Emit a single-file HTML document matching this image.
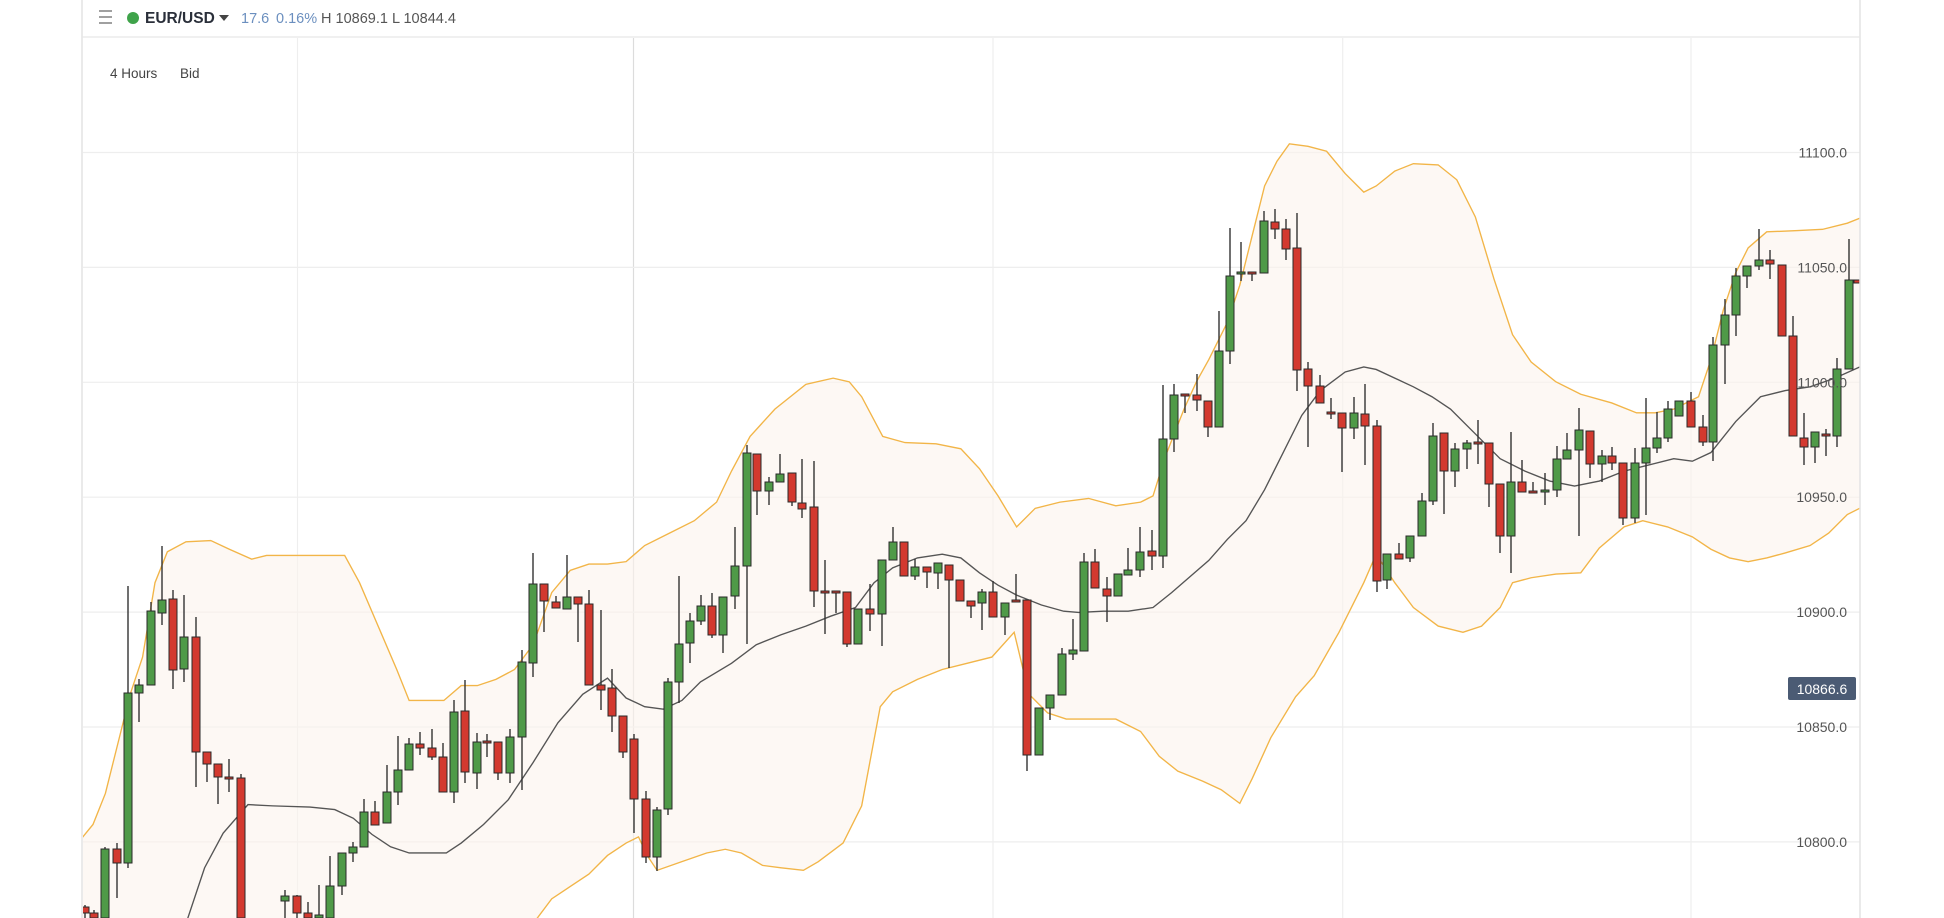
<!DOCTYPE html>
<html><head><meta charset="utf-8"><style>
html,body{margin:0;padding:0;background:#fff;width:1944px;height:918px;overflow:hidden}
svg{display:block}
text{font-family:"Liberation Sans",sans-serif}
</style></head><body>
<svg id="s" width="1944" height="918" viewBox="0 0 1944 918" xmlns="http://www.w3.org/2000/svg">
<defs><clipPath id="cp"><rect x="83" y="38" width="1777" height="880"/></clipPath></defs>
<rect width="1944" height="918" fill="#fff"/>
<g id="grid" stroke="#eeeeee" stroke-width="1.2"></g>
<g clip-path="url(#cp)">
 <g transform="scale(1.2398)">
  <path id="fill" fill="#fcf4ec" opacity="0.6"/>
  <polyline id="up" fill="none" stroke="#f2b548" stroke-width="1.1"/>
  <polyline id="lo" fill="none" stroke="#f2b548" stroke-width="1.1"/>
  <polyline id="mid" fill="none" stroke="#555" stroke-width="1.1"/>
 </g>
 <g id="candles"></g>
</g>
<line x1="82" y1="0" x2="82" y2="918" stroke="#e3e3e3" stroke-width="1.5"/>
<line x1="1860" y1="0" x2="1860" y2="918" stroke="#e3e3e3" stroke-width="1.5"/>
<line x1="82" y1="37" x2="1860" y2="37" stroke="#e6e6e6" stroke-width="1.2"/>
<g font-size="14" fill="#555" text-anchor="end" id="labels"></g>
<rect x="1788" y="677" width="68" height="23" rx="2" fill="#4b5b74"/>
<text x="1822" y="694" font-size="14" fill="#fff" text-anchor="middle">10866.6</text>
<g stroke="#888" stroke-width="1.6"><line x1="99" y1="11" x2="112" y2="11"/><line x1="99" y1="17" x2="112" y2="17"/><line x1="99" y1="23" x2="112" y2="23"/></g>
<circle cx="133" cy="18" r="6" fill="#3fa34a"/>
<text x="145" y="23" font-size="15.5" font-weight="bold" fill="#2a2f3a">EUR/USD</text>
<path d="M219 15 L229 15 L224 21 Z" fill="#444"/>
<text x="241" y="23" font-size="14.5" fill="#6b8fbf">17.6</text>
<text x="276" y="23" font-size="14.5" fill="#6b8fbf">0.16%</text>
<text x="321" y="23" font-size="14.5" fill="#555">H 10869.1 L 10844.4</text>
<text x="110" y="78" font-size="13.5" fill="#444">4 Hours</text>
<text x="180" y="78" font-size="13.5" fill="#444">Bid</text>
</svg>
<script>
var NS="http://www.w3.org/2000/svg";
function el(t,a,p){var e=document.createElementNS(NS,t);for(var k in a)e.setAttribute(k,a[k]);p.appendChild(e);return e;}
var grid=document.getElementById('grid');
[297.5,993,1342.7,1691].forEach(function(x){el('line',{x1:x,y1:38,x2:x,y2:918},grid);});
el('line',{x1:633.5,y1:38,x2:633.5,y2:918,stroke:'#dcdcdc'},grid);
var lab=document.getElementById('labels');
[11100,11050,11000,10950,10900,10850,10800].forEach(function(p){var y=152.5+(11100-p)*2.298;
 el('line',{x1:83,y1:y,x2:1860,y2:y},grid);
 var t=el('text',{x:1847,y:y+5},lab);t.textContent=p.toFixed(1);});
var up=[[66,676],[75,665],[85,640],[95,600],[105,560],[115,530],[125,470],[135,445],[150,437],[170,436],[185,443],[203,451],[215,448],[240,448],[278,448],[290,470],[305,505],[320,540],[330,565],[345,565],[358,565],[372,553],[385,553],[400,548],[415,540],[430,520],[445,478],[460,460],[475,455],[490,455],[505,453],[520,440],[540,430],[560,420],[578,405],[590,380],[605,352],[625,330],[650,310],[672,305],[685,308],[695,320],[712,352],[730,357],[755,358],[775,362],[790,378],[805,400],[820,425],[835,410],[855,405],[878,402],[900,408],[920,405],[930,400],[940,368],[955,330],[965,308],[975,290],[990,260],[1000,230],[1010,190],[1020,150],[1030,130],[1040,116],[1055,118],[1070,122],[1085,140],[1100,155],[1110,150],[1125,138],[1140,132],[1160,133],[1175,145],[1190,175],[1205,225],[1220,270],[1235,292],[1255,308],[1275,318],[1300,325],[1320,333],[1335,333],[1350,330],[1370,320],[1380,290],[1390,250],[1400,220],[1410,200],[1425,187],[1450,186],[1470,185],[1490,180],[1500,176]];
var lo=[[66,745],[430,745],[445,725],[460,715],[475,705],[490,690],[505,680],[515,675],[522,690],[530,702],[550,695],[570,688],[585,685],[598,688],[615,698],[630,700],[648,702],[660,695],[680,680],[695,650],[710,570],[720,558],[740,548],[760,540],[780,535],[800,530],[818,510],[830,560],[845,575],[860,580],[880,580],[900,580],[920,590],[935,610],[950,622],[970,630],[985,637],[1000,648],[1010,628],[1025,595],[1045,562],[1060,545],[1080,510],[1100,470],[1110,447],[1125,470],[1140,490],[1160,505],[1180,510],[1195,505],[1210,490],[1220,470],[1235,466],[1255,463],[1275,462],[1290,442],[1310,425],[1325,420],[1345,425],[1365,433],[1380,443],[1395,450],[1410,453],[1425,450],[1440,446],[1460,440],[1475,430],[1490,415],[1500,410]];
var mid=[[150,745],[165,700],[180,672],[200,649],[220,650],[250,651],[270,653],[285,660],[300,673],[315,683],[330,688],[360,688],[372,680],[390,665],[410,645],[430,615],[450,583],[470,560],[490,547],[505,563],[520,570],[535,572],[550,565],[565,550],[590,535],[610,520],[630,512],[650,505],[670,497],[690,490],[705,470],[720,458],[740,450],[760,447],[775,450],[790,462],[805,472],[820,480],[840,488],[858,493],[870,494],[890,493],[910,493],[930,490],[945,478],[960,465],[975,452],[990,435],[1005,420],[1020,395],[1035,365],[1050,335],[1065,315],[1085,300],[1100,296],[1110,298],[1125,305],[1140,312],[1155,320],[1170,330],[1190,350],[1210,370],[1230,380],[1250,388],[1270,392],[1290,388],[1310,380],[1330,375],[1350,370],[1365,372],[1380,365],[1400,340],[1420,320],[1440,315],[1460,312],[1480,305],[1500,296]];
function pts(a){return a.map(function(p){return p[0]+','+p[1];}).join(' ');}
document.getElementById('up').setAttribute('points',pts(up));
document.getElementById('lo').setAttribute('points',pts(lo.slice(1)));
document.getElementById('mid').setAttribute('points',pts(mid));
document.getElementById('fill').setAttribute('d','M'+pts(up)+' L'+pts(lo.slice().reverse())+' Z');
var C=[[85,907,913,905,918,'r'],[94,913,918,910,918,'r'],[105,849,918,847,918,'g'],[117,849,863,843,898,'r'],[128,693,863,586,868,'g'],[139,685,693,679,722,'g'],[151,611,685,602,685,'g'],[162,600,613,546,625,'g'],[173,599,670,590,689,'r'],[184,637,669,595,682,'g'],[196,637,752,617,787,'r'],[207,752,764,752,782,'r'],[218,764,777,764,804,'r'],[229,777,779,759,792,'r'],[241,778,918,774,918,'r'],
[285,896,901,890,918,'g'],[297,896,913,895,918,'r'],[308,913,918,902,918,'r'],[319,915,918,885,918,'g'],[330,886,918,856,918,'g'],[342,853,886,853,895,'g'],[353,847,853,842,862,'g'],[364,812,847,799,847,'g'],[375,812,825,801,825,'r'],[387,792,823,765,823,'g'],[398,770,792,736,805,'g'],[409,744,770,738,770,'g'],[420,744,748,732,755,'r'],[432,748,757,729,760,'r'],[443,757,792,743,792,'r'],[454,712,792,700,803,'g'],[465,711,772,680,783,'r'],[477,742,773,733,789,'g'],[487,741,743,734,757,'r'],[498,742,773,742,780,'r'],[510,737,773,729,783,'g'],[522,662,737,650,790,'g'],[533,584,663,553,677,'g'],[544,584,601,584,632,'r'],[556,602,608,596,608,'r'],[567,597,609,555,609,'g'],[578,597,604,597,642,'r'],[589,604,685,590,685,'r'],[601,685,690,610,710,'r'],[612,688,716,669,732,'r'],[623,716,752,716,758,'r'],[634,739,799,734,833,'r'],[646,799,857,791,863,'r'],[657,810,857,807,871,'g'],[668,682,809,678,815,'g'],[679,644,682,576,703,'g'],[690,621,643,613,663,'g'],[701,606,621,595,625,'g'],[712,606,635,593,638,'r'],[723,597,635,597,653,'g'],[735,566,596,527,609,'g'],[747,453,566,445,644,'g'],[757,454,491,454,515,'r'],[769,482,491,477,505,'g'],[780,474,482,454,482,'g'],[792,473,502,473,506,'r'],[802,503,509,459,518,'r'],[814,507,591,461,607,'r'],[825,591,593,560,634,'r'],[836,591,593,591,613,'r'],[847,592,644,592,647,'r'],[858,609,644,609,644,'g'],[870,609,614,584,631,'r'],[882,560,614,560,646,'g'],[893,542,560,527,560,'g'],
[904,542,576,542,576,'r'],[915,567,576,559,580,'g'],[927,567,572,567,588,'r'],[938,563,573,563,589,'g'],[949,565,580,565,668,'r'],[960,580,601,580,601,'r'],[971,601,606,601,618,'r'],[982,592,603,589,630,'g'],[993,592,617,581,617,'r'],[1005,603,617,603,635,'g'],[1016,600,602,574,602,'r'],[1027,600,755,600,771,'r'],[1039,708,755,708,755,'g'],[1050,695,708,695,720,'g'],[1062,654,695,648,695,'g'],[1073,650,654,619,660,'g'],[1084,562,651,553,651,'g'],[1095,562,588,549,588,'r'],[1107,589,596,577,622,'r'],[1118,574,596,574,596,'g'],[1128,570,575,548,575,'g'],[1140,552,570,527,577,'g'],[1152,551,556,530,570,'r'],[1163,439,556,385,568,'g'],[1174,395,439,384,452,'g'],[1185,394,396,394,413,'r'],[1197,395,400,374,411,'r'],[1208,401,427,401,437,'r'],[1219,351,427,311,427,'g'],[1230,276,351,228,364,'g'],[1241,272,274,242,281,'g'],[1252,272,274,272,281,'r'],[1264,221,273,211,273,'g'],[1275,222,229,209,239,'r'],[1286,229,249,219,260,'r'],
[1297,248,370,213,391,'r'],[1308,369,386,362,447,'r'],[1320,386,403,375,403,'r'],[1331,412,414,398,419,'r'],[1342,413,428,413,472,'r'],[1354,413,428,397,439,'g'],[1365,414,426,384,465,'r'],[1377,426,581,420,592,'r'],[1387,554,580,554,589,'g'],[1399,554,559,543,559,'r'],[1410,536,558,536,562,'g'],[1422,501,536,493,536,'g'],[1433,436,501,423,505,'g'],[1444,433,471,433,514,'r'],[1455,449,471,443,487,'g'],[1467,443,449,440,469,'g'],[1478,442,444,420,464,'r'],[1489,443,484,443,507,'r'],[1500,484,536,484,553,'r'],[1511,482,536,432,573,'g'],[1522,482,492,460,492,'r'],[1533,491,493,482,493,'r'],[1545,490,492,473,505,'g'],[1557,459,490,446,497,'g'],[1567,450,459,433,459,'g'],[1579,430,450,408,536,'g'],[1590,431,464,431,478,'r'],[1602,456,464,450,482,'g'],[1612,456,463,447,470,'r'],[1623,463,518,463,525,'r'],[1635,463,518,448,523,'g'],[1646,448,463,398,515,'g'],[1657,438,448,412,453,'g'],[1668,409,438,401,442,'g'],[1679,401,416,401,416,'g'],[1691,401,427,392,427,'r'],[1703,427,442,415,446,'r'],
[1713,345,442,337,461,'g'],[1725,315,345,299,384,'g'],[1736,276,315,268,336,'g'],[1747,266,276,266,288,'g'],[1759,260,266,229,270,'g'],[1770,260,264,250,279,'r'],[1782,265,336,265,336,'r'],[1793,336,436,316,436,'r'],[1804,438,447,413,465,'r'],[1815,432,447,432,463,'g'],[1826,434,436,429,456,'r'],[1837,369,436,358,447,'g'],[1849,280,369,239,369,'g'],[1858,280,283,280,283,'r']];
var g=document.getElementById('candles');
C.forEach(function(c){
 var x=c[0],t=c[1],b=c[2];if(b-t<2){b=t+2;}
 el('line',{x1:x,y1:c[3],x2:x,y2:c[4],stroke:'#333','stroke-width':1.4},g);
 el('rect',{x:x-4,y:t,width:8,height:b-t,fill:c[5]=='g'?'#4f9a48':'#d3392f',stroke:'#2a2a2a','stroke-width':1},g);
});
</script>
</body></html>
